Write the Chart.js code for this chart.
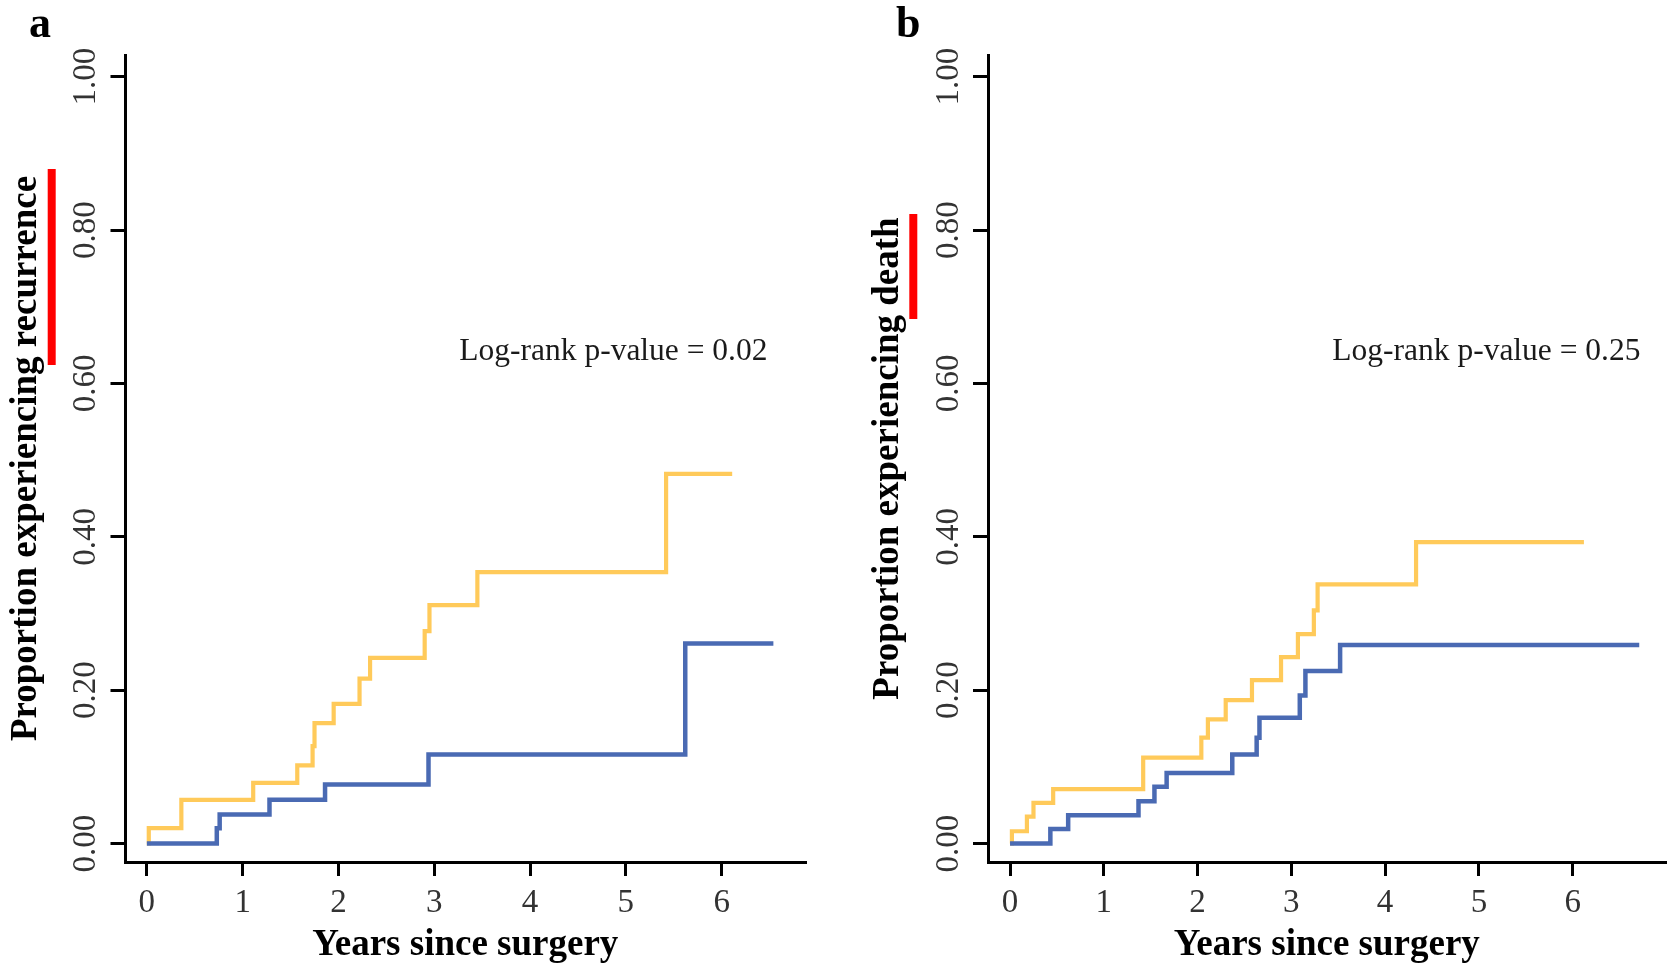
<!DOCTYPE html>
<html>
<head>
<meta charset="utf-8">
<script src="https://cdn.jsdelivr.net/npm/chart.js@4.4.0/dist/chart.umd.min.js"></script>
<style>
  html, body { margin: 0; padding: 0; background: #fff; }
  body { width: 1669px; height: 967px; position: relative; overflow: hidden; }
  canvas { position: absolute; top: 0; }
  #chart-a { left: 0; }
  #chart-b { left: 860px; }
</style>
</head>
<body>
<canvas id="chart-a" width="860" height="967"></canvas>
<canvas id="chart-b" width="809" height="967"></canvas>
<script>
const xTicks = [0, 1, 2, 3, 4, 5, 6];
const yTicks = [0, 0.2, 0.4, 0.6, 0.8, 1];
const yTickLabels = ['0.00', '0.20', '0.40', '0.60', '0.80', '1.00'];

// panel a - recurrence
const recurYellowTime = [0, 0.02, 0.36, 1.11, 1.57, 1.73, 1.75, 1.95, 2.22, 2.33, 2.90, 2.95, 3.45, 5.42, 6.11];
const recurYellowProp = [0, 0.020, 0.057, 0.079, 0.102, 0.127, 0.157, 0.182, 0.215, 0.242, 0.277, 0.311, 0.354, 0.482, 0.482];
const recurBlueTime = [0, 0.73, 0.76, 1.28, 1.86, 2.94, 5.62, 6.54];
const recurBlueProp = [0, 0.020, 0.038, 0.057, 0.077, 0.116, 0.261, 0.261];

// panel b - death
const deathYellowTime = [0, 0.02, 0.18, 0.25, 0.46, 1.42, 2.04, 2.11, 2.30, 2.58, 2.89, 3.07, 3.24, 3.28, 4.33, 6.12];
const deathYellowProp = [0, 0.016, 0.035, 0.053, 0.071, 0.112, 0.138, 0.162, 0.187, 0.213, 0.243, 0.273, 0.304, 0.338, 0.393, 0.393];
const deathBlueTime = [0, 0.43, 0.62, 1.37, 1.54, 1.67, 2.37, 2.63, 2.66, 3.09, 3.15, 3.52, 6.71];
const deathBlueProp = [0, 0.019, 0.037, 0.055, 0.074, 0.092, 0.116, 0.138, 0.164, 0.193, 0.225, 0.259, 0.259];

const YELLOW = '#FFCA5A';
const BLUE = '#4A6AB3';

Chart.defaults.font.family = '"Liberation Serif", "Times New Roman", serif';

function toPoints(xs, ys) {
    return xs.map((x, i) => ({ x: x, y: ys[i] }));
}

// letters, red marks and the p-value text
const annotate = {
    id: 'annotate',
    afterDraw(chart, args, opts) {
        const ctx = chart.ctx;
        const { x, y } = chart.scales;
        ctx.save();
        ctx.fillStyle = '#ff0000';
        ctx.fillRect(opts.bar[0], opts.bar[1], opts.bar[2], opts.bar[3]);

        ctx.fillStyle = '#000';
        ctx.font = 'bold 44px "Liberation Serif"';
        ctx.textAlign = 'left';
        ctx.textBaseline = 'alphabetic';
        ctx.fillText(opts.letter, opts.letterX, 36.5);

        ctx.fillStyle = '#1a1a1a';
        ctx.font = '31.5px "Liberation Serif"';
        ctx.textAlign = 'center';
        ctx.textBaseline = 'middle';
        ctx.fillText(opts.pText, x.getPixelForValue(opts.pAt[0]), y.getPixelForValue(opts.pAt[1]));
        ctx.restore();
    }
};

function makePanel(p) {
    const ctx = document.getElementById(p.id).getContext('2d');
    return new Chart(ctx, {
        type: 'line',
        data: {
            datasets: [
                {
                    data: toPoints(p.blueTime, p.blueProp),
                    borderColor: BLUE,
                    borderWidth: 4.5,
                    pointRadius: 0,
                    stepped: 'before',
                    fill: false
                },
                {
                    data: toPoints(p.yellowTime, p.yellowProp),
                    borderColor: YELLOW,
                    borderWidth: 4.2,
                    pointRadius: 0,
                    stepped: 'before',
                    fill: false
                }
            ]
        },
        options: {
            responsive: false,
            animation: false,
            layout: { padding: { top: 55, right: p.padRight, bottom: 0, left: 0 } },
            plugins: {
                legend: { display: false },
                tooltip: { enabled: false },
                annotate: { bar: p.bar, letter: p.letter, letterX: p.letterX, pText: p.pText, pAt: p.pAt }
            },
            scales: {
                x: {
                    type: 'linear',
                    min: p.xMin,
                    max: p.xMax,
                    afterBuildTicks: s => { s.ticks = xTicks.map(v => ({ value: v })); },
                    afterFit: s => { s.height = 105; },
                    border: { display: true, color: '#000', width: 3 },
                    grid: { drawOnChartArea: false, drawTicks: true, tickLength: 14, lineWidth: 3, tickWidth: 3, tickColor: '#000' },
                    ticks: { padding: 7.2, color: '#333', font: { size: 33 }, minRotation: 0, maxRotation: 0, autoSkip: false },
                    title: {
                        display: true,
                        text: 'Years since surgery',
                        color: '#000',
                        font: { size: 37, weight: 'bold' },
                        padding: { top: 0, bottom: -1 }
                    }
                },
                y: {
                    type: 'linear',
                    min: -0.0241,
                    max: 1.0283,
                    afterBuildTicks: s => { s.ticks = yTicks.map(v => ({ value: v })); },
                    afterFit: s => { s.width = p.axisWidth; },
                    border: { display: true, color: '#000', width: 3 },
                    grid: { drawOnChartArea: false, drawTicks: true, tickLength: 15, lineWidth: 3, tickWidth: 3, tickColor: '#000' },
                    ticks: {
                        padding: -5.2,
                        crossAlign: 'center',
                        minRotation: 90,
                        maxRotation: 90,
                        color: '#333',
                        font: { size: 33 },
                        callback: (v, i) => yTickLabels[i]
                    },
                    title: {
                        display: true,
                        text: p.yTitle,
                        color: '#000',
                        font: { size: 37, weight: 'bold' },
                        padding: { top: p.titlePad, bottom: 0 }
                    }
                }
            }
        },
        plugins: [annotate]
    });
}

makePanel({
    id: 'chart-a',
    letter: 'a', letterX: 29,
    yTitle: 'Proportion experiencing recurrence',
    pText: 'Log-rank p-value = 0.02', pAt: [4.87, 0.641],
    xMin: -0.223, xMax: 6.87,
    axisWidth: 125.5, padRight: 55, titlePad: 4.4,
    bar: [47.7, 169, 8, 196],
    yellowTime: recurYellowTime, yellowProp: recurYellowProp,
    blueTime: recurBlueTime, blueProp: recurBlueProp
});

makePanel({
    id: 'chart-b',
    letter: 'b', letterX: 36,
    yTitle: 'Proportion experiencing death',
    pText: 'Log-rank p-value = 0.25', pAt: [5.08, 0.641],
    xMin: -0.235, xMax: 6.99,
    axisWidth: 128, padRight: 3.5, titlePad: 6.2,
    bar: [49.3, 214, 8, 105],
    yellowTime: deathYellowTime, yellowProp: deathYellowProp,
    blueTime: deathBlueTime, blueProp: deathBlueProp
});
</script>
</body>
</html>
